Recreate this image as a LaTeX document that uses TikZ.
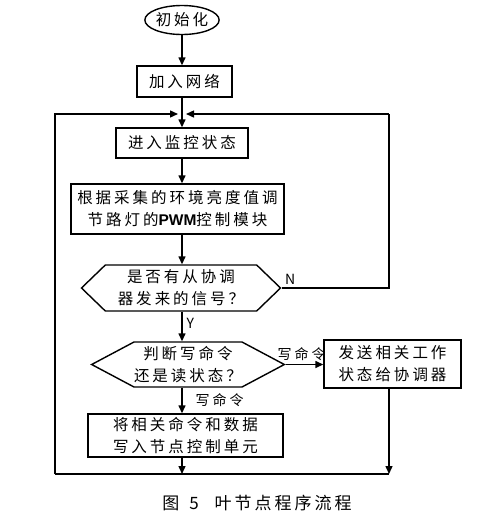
\documentclass[tikz,border=0pt]{standalone}
\usepackage{fontspec}
\setmainfont{Noto Sans CJK SC}
\newfontfamily\pwmfont{Liberation Sans}
\usetikzlibrary{arrows.meta, shapes.geometric, shapes.symbols}
% spacing between CJK characters
\newXeTeXintercharclass\hanclass
\newcount\hanchar
\hanchar="4E00
\loop
  \XeTeXcharclass\hanchar=\hanclass
  \advance\hanchar by 1
\ifnum\hanchar<"A000 \repeat
\XeTeXcharclass"FF1F=\hanclass
\XeTeXinterchartokenstate=1
\XeTeXinterchartoks\hanclass\hanclass={\hskip 3pt\relax}

\begin{document}
\begin{tikzpicture}[x=1pt, y=-1pt, line width=1.4pt,
    box/.style={draw, rectangle, inner sep=0pt, align=center,
      font=\fontsize{15.5}{22}\selectfont},
    hexa/.style={draw, signal, signal to=east and west, inner sep=0pt,
      align=center, font=\fontsize{15.5}{22}\selectfont},
    flow/.style={-{Triangle[length=8pt, width=7pt]}},
    lbl/.style={font=\fontsize{14}{16}\selectfont, inner sep=1pt}]
  \useasboundingbox (0,0) rectangle (479,525);

  % ── Main column ──
  \node[draw, ellipse, minimum width=72, minimum height=29, inner sep=0pt,
    font=\fontsize{15.5}{22}\selectfont] (start) at (182,20) {初始化};
  \node[box, minimum width=95, minimum height=31] (join) at (184.5,81.5) {加入网络};
  \node[box, minimum width=132, minimum height=30] (monitor) at (182,143) {进入监控状态};
  \node[box, minimum width=213, minimum height=50] (adjust) at (177.5,209)
    {根据采集的环境亮度值调\\节路灯的{\pwmfont\bfseries PWM}控制模块};
  \node[hexa, signal pointer angle=88, minimum width=199, minimum height=46]
    (ask) at (181,288) {是否有从协调\\器发来的信号？};
  \node[hexa, signal pointer angle=56, minimum width=164, minimum height=45]
    (judge) at (188,364.5) {判断写命令\\还是读状态？};
  \node[box, minimum width=137, minimum height=48] (reply) at (392.5,364)
    {发送相关工作\\状态给协调器};
  \node[box, minimum width=195, minimum height=43] (write) at (185.5,435.5)
    {将相关命令和数据\\写入节点控制单元};

  % ── Loop corners ──
  \coordinate (merge) at (182,114);
  \coordinate (lefttop) at (55,114);
  \coordinate (leftbot) at (55,474);
  \coordinate (righttop) at (389,114);
  \coordinate (rightmid) at (389,288);
  \coordinate (rightbot) at (389,474);
  \coordinate (botmid) at (182,474);

  % ── Connectors ──
  \draw[flow] (start.south) -- (start.south |- join.north);
  \draw (start.south |- join.south) -- (merge);
  \draw[flow] (merge) -- (merge |- monitor.north);
  \draw[flow] (merge |- monitor.south) -- (merge |- adjust.north);
  \draw[flow] (merge |- adjust.south) -- (merge |- ask.north);
  \draw[flow] (merge |- ask.south) -- node[lbl, right=3pt, pos=0.4] {Y} (merge |- judge.north);
  \draw[flow] (merge |- judge.south) -- node[lbl, right=12pt, pos=0.5] {写命令} (merge |- write.north);
  \draw[flow] (judge.east) -- node[lbl, above=2pt, pos=0.42] {写命令} (reply.west |- judge.east);
  \draw (ask.east) -- node[lbl, above=2pt, pos=0.08] {N} (rightmid) -- (righttop);
  \draw[flow] (righttop) -- ([xshift=4pt]merge);
  \draw[flow] (leftbot) -- (lefttop) -- ([xshift=-4pt]merge);
  \draw[flow] (merge |- write.south) -- (botmid);
  \draw[flow] (rightbot |- reply.south) -- (rightbot);
  \draw (leftbot) -- (rightbot);

  % Caption
  \node[font=\fontsize{17}{19}\selectfont] (caption) at (257,503)
    {图\kern 10pt 5\kern 16pt 叶节点程序流程};
\end{tikzpicture}
\end{document}
